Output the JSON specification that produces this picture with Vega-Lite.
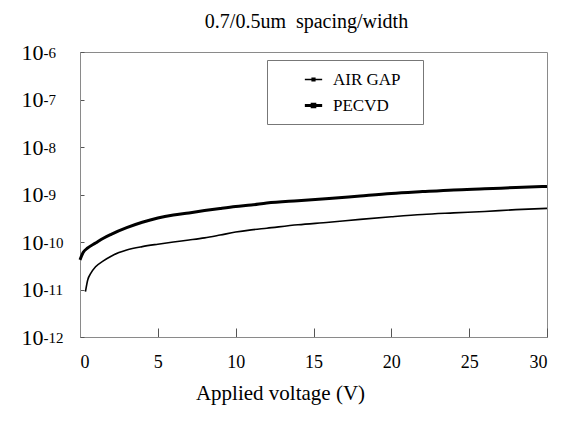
{
  "$schema": "https://vega.github.io/schema/vega-lite/v6.json",
  "width": 467,
  "height": 285,
  "autosize": "none",
  "padding": {"left": 80, "top": 52, "right": 18, "bottom": 87},
  "background": "white",
  "config": {
    "font": "Liberation Serif",
    "view": {"stroke": "#8a8a8a", "strokeWidth": 1},
    "legend": {
      "orient": "none",
      "legendX": 187,
      "legendY": 8,
      "strokeColor": "#777777",
      "fillColor": "white",
      "padding": 10,
      "labelFont": "Liberation Serif",
      "labelFontSize": 17,
      "labelColor": "black",
      "labelOffset": 9,
      "labelLimit": 300,
      "symbolOffset": 26,
      "rowPadding": 7,
      "symbolType": "M-1,0H1M-0.15,-0.15H0.15V0.15H-0.15Z",
      "symbolSize": 300,
      "symbolStrokeWidth": 1,
      "symbolStrokeColor": "black",
      "symbolFillColor": "black"
    }
  },
  "title": {
    "text": "0.7/0.5um\u00a0\u00a0spacing/width",
    "fontSize": 20,
    "fontWeight": "normal",
    "font": "Liberation Serif",
    "color": "black",
    "offset": 9,
    "dx": -7
  },
  "data": {
    "values": [
      {"V": 0.35, "I": 9e-12, "film": "AIR GAP"},
      {"V": 0.5, "I": 1.6e-11, "film": "AIR GAP"},
      {"V": 0.7, "I": 2.2e-11, "film": "AIR GAP"},
      {"V": 1, "I": 3.0e-11, "film": "AIR GAP"},
      {"V": 1.5, "I": 4.0e-11, "film": "AIR GAP"},
      {"V": 2, "I": 5.0e-11, "film": "AIR GAP"},
      {"V": 2.5, "I": 6.0e-11, "film": "AIR GAP"},
      {"V": 3, "I": 6.8e-11, "film": "AIR GAP"},
      {"V": 4, "I": 8.0e-11, "film": "AIR GAP"},
      {"V": 5, "I": 9.0e-11, "film": "AIR GAP"},
      {"V": 6, "I": 1.0e-10, "film": "AIR GAP"},
      {"V": 7, "I": 1.1e-10, "film": "AIR GAP"},
      {"V": 8, "I": 1.22e-10, "film": "AIR GAP"},
      {"V": 9, "I": 1.4e-10, "film": "AIR GAP"},
      {"V": 10, "I": 1.62e-10, "film": "AIR GAP"},
      {"V": 11, "I": 1.8e-10, "film": "AIR GAP"},
      {"V": 12, "I": 1.95e-10, "film": "AIR GAP"},
      {"V": 14, "I": 2.3e-10, "film": "AIR GAP"},
      {"V": 16, "I": 2.6e-10, "film": "AIR GAP"},
      {"V": 18, "I": 3.0e-10, "film": "AIR GAP"},
      {"V": 20, "I": 3.4e-10, "film": "AIR GAP"},
      {"V": 22, "I": 3.8e-10, "film": "AIR GAP"},
      {"V": 24, "I": 4.1e-10, "film": "AIR GAP"},
      {"V": 26, "I": 4.4e-10, "film": "AIR GAP"},
      {"V": 28, "I": 4.8e-10, "film": "AIR GAP"},
      {"V": 30, "I": 5.1e-10, "film": "AIR GAP"},
      {"V": 0, "I": 4.2e-11, "film": "PECVD"},
      {"V": 0.2, "I": 6.0e-11, "film": "PECVD"},
      {"V": 0.5, "I": 7.5e-11, "film": "PECVD"},
      {"V": 1, "I": 9.5e-11, "film": "PECVD"},
      {"V": 1.5, "I": 1.2e-10, "film": "PECVD"},
      {"V": 2, "I": 1.45e-10, "film": "PECVD"},
      {"V": 3, "I": 2.0e-10, "film": "PECVD"},
      {"V": 4, "I": 2.6e-10, "film": "PECVD"},
      {"V": 5, "I": 3.2e-10, "film": "PECVD"},
      {"V": 6, "I": 3.7e-10, "film": "PECVD"},
      {"V": 7, "I": 4.1e-10, "film": "PECVD"},
      {"V": 8, "I": 4.6e-10, "film": "PECVD"},
      {"V": 9, "I": 5.1e-10, "film": "PECVD"},
      {"V": 10, "I": 5.6e-10, "film": "PECVD"},
      {"V": 11, "I": 6.0e-10, "film": "PECVD"},
      {"V": 12, "I": 6.6e-10, "film": "PECVD"},
      {"V": 14, "I": 7.4e-10, "film": "PECVD"},
      {"V": 16, "I": 8.2e-10, "film": "PECVD"},
      {"V": 18, "I": 9.3e-10, "film": "PECVD"},
      {"V": 20, "I": 1.05e-9, "film": "PECVD"},
      {"V": 22, "I": 1.15e-9, "film": "PECVD"},
      {"V": 24, "I": 1.25e-9, "film": "PECVD"},
      {"V": 26, "I": 1.32e-9, "film": "PECVD"},
      {"V": 28, "I": 1.4e-9, "film": "PECVD"},
      {"V": 30, "I": 1.48e-9, "film": "PECVD"}
    ]
  },
  "layer": [
    {
      "mark": {"type": "line", "interpolate": "monotone"},
      "encoding": {
        "x": {
          "field": "V",
          "type": "quantitative",
          "scale": {"domain": [0, 30], "nice": false, "zero": false},
          "axis": {
            "values": [0, 5, 10, 15, 20, 25, 30],
            "grid": false,
            "domainColor": "#8a8a8a",
            "tickColor": "#555555",
            "tickSize": -9,
            "labelPadding": 25,
            "labelFontSize": 18,
            "labelFont": "Liberation Serif",
            "labelColor": "black",
            "title": "Applied voltage (V)",
            "titleFont": "Liberation Serif",
            "titleFontSize": 21,
            "titleFontWeight": "normal",
            "titleColor": "black",
            "titlePadding": 11,
            "titleX": 200
          }
        },
        "y": {
          "field": "I",
          "type": "quantitative",
          "scale": {"type": "log", "domain": [1e-12, 1e-6], "nice": false},
          "axis": {
            "values": [1e-12, 1e-11, 1e-10, 1e-9, 1e-8, 1e-7, 1e-6],
            "grid": false,
            "title": null,
            "domainColor": "#8a8a8a",
            "tickColor": "#555555",
            "tickSize": -4,
            "labelPadding": 63,
            "labelAlign": "left",
            "labelDy": -3,
            "labelFontSize": 22,
            "labelFont": "Liberation Serif",
            "labelColor": "black",
            "labelExpr": "'10'"
          }
        },
        "color": {
          "field": "film",
          "type": "nominal",
          "scale": {"domain": ["AIR GAP", "PECVD"], "range": ["black", "black"]},
          "legend": {
            "title": null,
            "labelExpr": "datum.label + '\u2800'",
            "encode": {"symbols": {"update": {"strokeWidth": {"value": 1}}}}
          }
        },
        "strokeWidth": {
          "field": "film",
          "type": "nominal",
          "scale": {"domain": ["AIR GAP", "PECVD"], "range": [1.6, 3]},
          "legend": null
        }
      }
    },
    {
      "mark": {"type": "line", "opacity": 0},
      "encoding": {
        "x": {"field": "V", "type": "quantitative"},
        "y": {
          "field": "I",
          "type": "quantitative",
          "scale": {"type": "log", "domain": [1e-12, 1e-6], "nice": false},
          "axis": {
            "orient": "left",
            "values": [1e-12, 1e-11, 1e-10, 1e-9, 1e-8, 1e-7, 1e-6],
            "grid": false,
            "title": null,
            "domain": false,
            "ticks": false,
            "labelPadding": 37,
            "labelAlign": "left",
            "labelDy": -10,
            "labelFontSize": 15,
            "labelFont": "Liberation Serif",
            "labelColor": "black",
            "labelExpr": "'-' + format(-log(datum.value) / LN10, '.0f')"
          }
        },
        "detail": {"field": "film"}
      }
    }
  ],
  "resolve": {"axis": {"y": "independent"}}
}
